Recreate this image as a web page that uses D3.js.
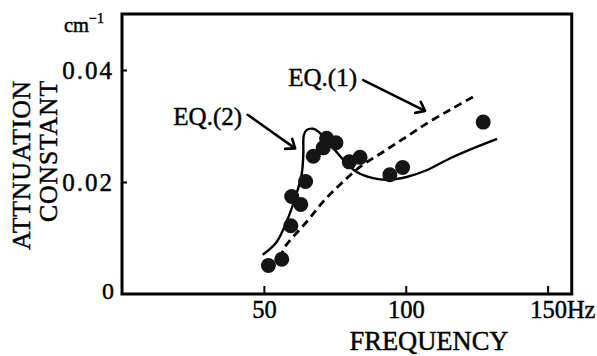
<!DOCTYPE html>
<html>
<head>
<meta charset="utf-8">
<script src="https://cdn.jsdelivr.net/npm/d3@7"></script>
<style>
  html, body { margin: 0; padding: 0; background: #fff; }
  svg { display: block; }
  text { font-family: "Liberation Serif", "DejaVu Serif", serif; fill: #000; stroke: #000; stroke-width: 0.45px; }
</style>
</head>
<body>
<svg id="chart" width="597" height="356"></svg>
<script>
// ---- data ----
const xTicks = [50, 100, 150];
const yTicks = [0, 0.02, 0.04];
const xTickLabels = ["50", "100", "150"];
const yTickLabels = ["0", "0.02", "0.04"];

// measured points (frequency Hz, attenuation cm^-1)
const measFreq = [51.6, 56.3, 59.5, 59.8, 63.0, 64.7, 67.4, 70.9, 72.1, 75.4, 80.1, 83.9, 94.4, 98.9, 127.3];
const measAtt  = [0.0051, 0.0062, 0.0122, 0.0174, 0.0160, 0.0201, 0.0246, 0.0261, 0.0278, 0.0270, 0.0236, 0.0244, 0.0213, 0.0226, 0.0307];

// EQ.(2) solid curve
const eq2Freq = [49.6, 54.5, 58.0, 61.0, 63.3, 63.9, 64.1, 65.1, 67.4, 69.2, 74.5, 79.2, 82.7, 88.5, 93.3, 100.3, 107.3, 115.5, 123.7, 132.2];
const eq2Att  = [0.0070, 0.0093, 0.0129, 0.0171, 0.0213, 0.0248, 0.0284, 0.0293, 0.0295, 0.0290, 0.0260, 0.0233, 0.0218, 0.0207, 0.0204, 0.0209, 0.0221, 0.0242, 0.0260, 0.0277];

// EQ.(1) dashed curve
const eq1Freq = [55.7, 57.4, 65.1, 70.9, 76.8, 83.9, 92.1, 100.3, 108.5, 116.7, 123.7];
const eq1Att  = [0.0064, 0.0084, 0.0129, 0.0165, 0.0195, 0.0227, 0.0254, 0.0281, 0.0308, 0.0332, 0.0352];

// annotations (label text, label anchor, arrow start, arrow tip) in data units
const annLabels = ["EQ.(2)", "EQ.(1)"];
const annLabelPos = [[18.1, 0.0302], [58.6, 0.0371]];
const annArrowFrom = [[44.3, 0.0320], [85.0, 0.0382]];
const annArrowTo = [[61.0, 0.0260], [106.8, 0.0327]];

// ---- chart ----
const svg = d3.select("#chart");
const x = d3.scaleLinear().domain([0, 160]).range([122, 576]);
const y = d3.scaleLinear().domain([0, 0.05]).range([294, 14]);
const xMax = 158.5;

// frame
svg.append("rect")
  .attr("x", x(0)).attr("y", y(0.05))
  .attr("width", x(xMax) - x(0)).attr("height", y(0) - y(0.05))
  .attr("fill", "none").attr("stroke", "#000").attr("stroke-width", 3);

// x axis (ticks pointing inward)
const gx = svg.append("g").attr("transform", `translate(0,${y(0)})`)
  .call(d3.axisBottom(x).tickValues(xTicks).tickSizeInner(-8).tickSizeOuter(0).tickPadding(9)
    .tickFormat((d, i) => xTickLabels[i]));
gx.select(".domain").remove();
gx.selectAll(".tick line").attr("stroke", "#000").attr("stroke-width", 2);
gx.selectAll(".tick text").attr("font-size", 24.5).attr("fill", "#000")
  .attr("font-family", "Liberation Serif, serif").attr("dy", "0.6em");
gx.selectAll(".tick").filter(d => d === 150).select("text").append("tspan").text("Hz");
gx.selectAll(".tick").filter(d => d === 150).select("text").attr("text-anchor", "start").attr("x", -18);

// y axis (ticks pointing inward)
const gy = svg.append("g").attr("transform", `translate(${x(0)},0)`)
  .call(d3.axisLeft(y).tickValues(yTicks).tickSizeInner(-5).tickSizeOuter(0).tickPadding(8)
    .tickFormat((d, i) => yTickLabels[i]));
gy.select(".domain").remove();
gy.selectAll(".tick line").attr("stroke", "#000").attr("stroke-width", 2);
gy.selectAll(".tick").filter(d => d === 0).select("line").remove();
gy.selectAll(".tick text").attr("font-size", 25).attr("fill", "#000")
  .attr("letter-spacing", 2).attr("dy", "0.33em")
  .attr("font-family", "Liberation Serif, serif");
gy.selectAll(".tick").filter(d => d === 0).select("text").attr("font-size", 24).attr("letter-spacing", 0).attr("dy", "0.17em");

// unit label
const unit = svg.append("text").attr("x", 64).attr("y", 32).attr("font-size", 20.5);
unit.append("tspan").text("cm");
unit.append("tspan").attr("font-size", 14).attr("dy", -9).text("\u22121");

// axis titles
svg.append("text").attr("transform", "translate(30,80) rotate(-90)")
  .attr("text-anchor", "end").attr("font-size", 25.8).attr("letter-spacing", 0.8).text("ATTNUATION");
svg.append("text").attr("transform", "translate(57,80) rotate(-90)")
  .attr("text-anchor", "end").attr("font-size", 25.8).attr("letter-spacing", 0.8).text("CONSTANT");
svg.append("text").attr("x", 429).attr("y", 350).attr("text-anchor", "middle")
  .attr("font-size", 26.5).text("FREQUENCY");

// curves
const line = d3.line().x(d => x(d[0])).y(d => y(d[1])).curve(d3.curveCatmullRom.alpha(0.5));
svg.append("path").datum(eq2Freq.map((f, i) => [f, eq2Att[i]]))
  .attr("d", line).attr("fill", "none").attr("stroke", "#000").attr("stroke-width", 2.4);
svg.append("path").datum(eq1Freq.map((f, i) => [f, eq1Att[i]]))
  .attr("d", line).attr("fill", "none").attr("stroke", "#000").attr("stroke-width", 2.8)
  .attr("stroke-dasharray", "8,5");

// measured points
svg.append("g").selectAll("circle").data(measFreq.map((f, i) => [f, measAtt[i]]))
  .join("circle")
  .attr("cx", d => x(d[0])).attr("cy", d => y(d[1])).attr("r", 7.5)
  .attr("fill", "#151515");

// annotations
annLabels.forEach((lab, i) => {
  svg.append("text").attr("x", x(annLabelPos[i][0])).attr("y", y(annLabelPos[i][1]))
    .attr("font-size", 25).text(lab);
  const x0 = x(annArrowFrom[i][0]), y0 = y(annArrowFrom[i][1]);
  const x1 = x(annArrowTo[i][0]), y1 = y(annArrowTo[i][1]);
  const ang = Math.atan2(y1 - y0, x1 - x0);
  const L = 10, h = 38 * Math.PI / 180;
  const b1 = [x1 - L * Math.cos(ang - h), y1 - L * Math.sin(ang - h)];
  const b2 = [x1 - L * Math.cos(ang + h), y1 - L * Math.sin(ang + h)];
  svg.append("path")
    .attr("d", `M${x0},${y0}L${x1},${y1}M${b1[0]},${b1[1]}L${x1},${y1}L${b2[0]},${b2[1]}`)
    .attr("fill", "none").attr("stroke", "#000").attr("stroke-width", 2.6)
    .attr("stroke-linecap", "round").attr("stroke-linejoin", "round");
});
</script>
</body>
</html>
